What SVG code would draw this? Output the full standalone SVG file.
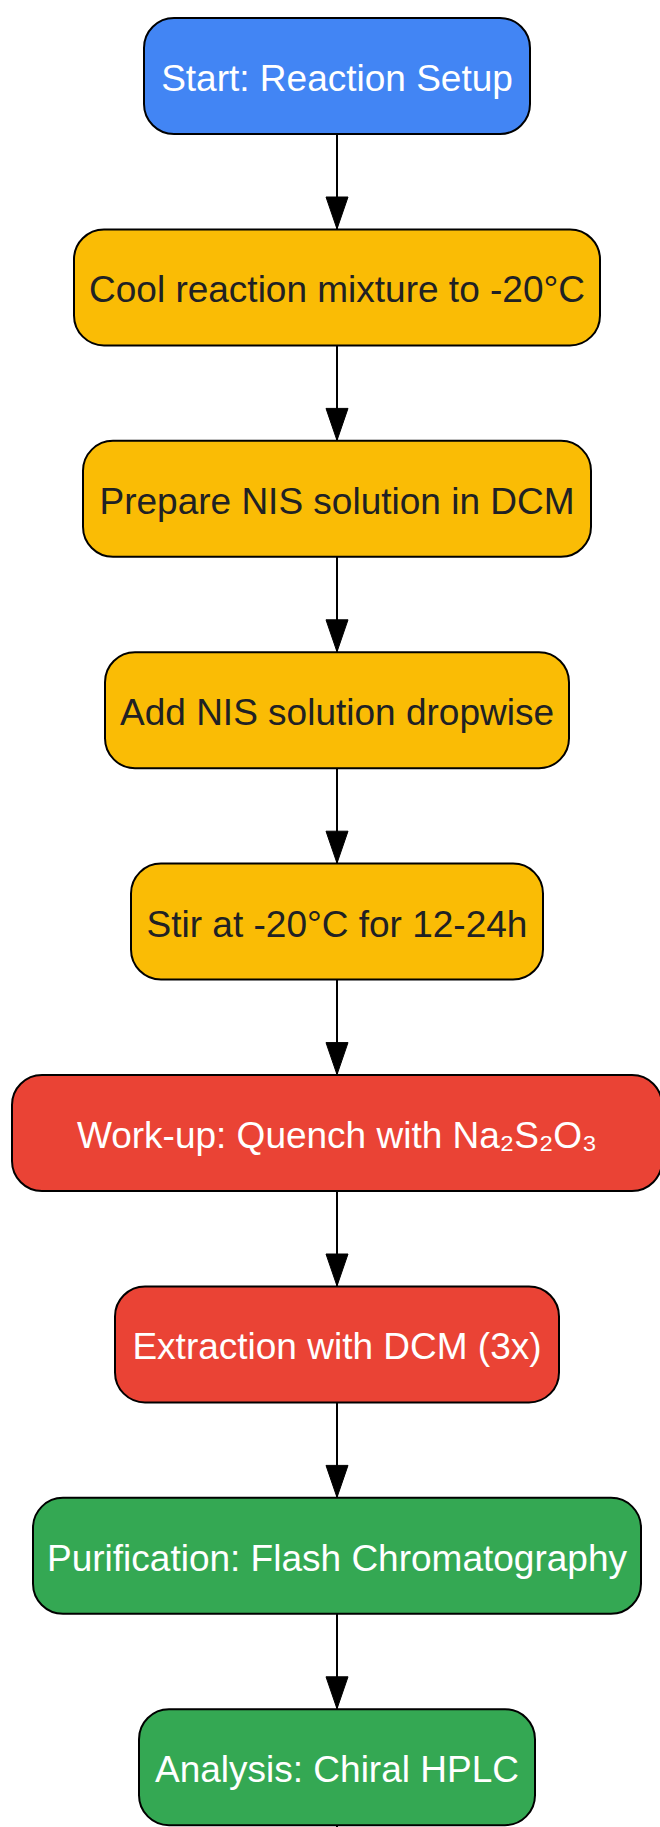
<svg xmlns="http://www.w3.org/2000/svg" width="660" height="1827" viewBox="0 0 660 1827">
  <defs>
    <marker id="arrow" markerUnits="userSpaceOnUse" markerWidth="34" markerHeight="24" refX="33" refY="12" orient="auto">
      <path d="M1,1 L33,12 L1,23 z" fill="#000" stroke="#000" stroke-width="1"/>
    </marker>
    <style>
      .node rect { stroke: #000; stroke-width: 2; }
      .blue rect { fill: #4285F4; }
      .yellow rect { fill: #FABC05; }
      .red rect { fill: #EA4335; }
      .green rect { fill: #34A853; }
      .node text { font-family: "Liberation Sans", Arial, "DejaVu Sans", sans-serif; font-size: 37px; text-anchor: middle; }
      .light text { fill: #FFFFFF; }
      .dark text { fill: #202124; }
      .edge { stroke: #000; stroke-width: 2; fill: none; }
    </style>
  </defs>
  <rect x="0" y="0" width="660" height="1827" fill="#FFFFFF"/>
  <g id="connectors">
    <line class="edge" x1="337" y1="134" x2="337" y2="229" marker-end="url(#arrow)"/>
    <line class="edge" x1="337" y1="345.4" x2="337" y2="440.4" marker-end="url(#arrow)"/>
    <line class="edge" x1="337" y1="556.8" x2="337" y2="651.8" marker-end="url(#arrow)"/>
    <line class="edge" x1="337" y1="768.2" x2="337" y2="863.2" marker-end="url(#arrow)"/>
    <line class="edge" x1="337" y1="979.6" x2="337" y2="1074.6" marker-end="url(#arrow)"/>
    <line class="edge" x1="337" y1="1191" x2="337" y2="1286" marker-end="url(#arrow)"/>
    <line class="edge" x1="337" y1="1402.4" x2="337" y2="1497.4" marker-end="url(#arrow)"/>
    <line class="edge" x1="337" y1="1613.8" x2="337" y2="1708.8" marker-end="url(#arrow)"/>
    <line class="edge" x1="337" y1="1825" x2="337" y2="1830"/>
  </g>
  <g id="node-start" class="node blue light">
    <rect x="144" y="18" width="386" height="116" rx="30" ry="30"/>
    <text x="337" y="91">Start: Reaction Setup</text>
  </g>
  <g id="node-cool" class="node yellow dark">
    <rect x="74" y="229.4" width="526" height="116" rx="30" ry="30"/>
    <text x="337" y="302.4">Cool reaction mixture to -20°C</text>
  </g>
  <g id="node-prepare" class="node yellow dark">
    <rect x="83" y="440.8" width="508" height="116" rx="30" ry="30"/>
    <text x="337" y="513.8">Prepare NIS solution in DCM</text>
  </g>
  <g id="node-add" class="node yellow dark">
    <rect x="105" y="652.2" width="464" height="116" rx="30" ry="30"/>
    <text x="337" y="725.2">Add NIS solution dropwise</text>
  </g>
  <g id="node-stir" class="node yellow dark">
    <rect x="131" y="863.6" width="412" height="116" rx="30" ry="30"/>
    <text x="337" y="936.6">Stir at -20°C for 12-24h</text>
  </g>
  <g id="node-workup" class="node red light">
    <rect x="12" y="1075" width="650" height="116" rx="30" ry="30"/>
    <text x="337" y="1148">Work-up: Quench with Na₂S₂O₃</text>
  </g>
  <g id="node-extraction" class="node red light">
    <rect x="115" y="1286.4" width="444" height="116" rx="30" ry="30"/>
    <text x="337" y="1359.4">Extraction with DCM (3x)</text>
  </g>
  <g id="node-purification" class="node green light">
    <rect x="33" y="1497.8" width="608" height="116" rx="30" ry="30"/>
    <text x="337" y="1570.8">Purification: Flash Chromatography</text>
  </g>
  <g id="node-analysis" class="node green light">
    <rect x="139" y="1709.2" width="396" height="116" rx="30" ry="30"/>
    <text x="337" y="1782.2">Analysis: Chiral HPLC</text>
  </g>
</svg>
